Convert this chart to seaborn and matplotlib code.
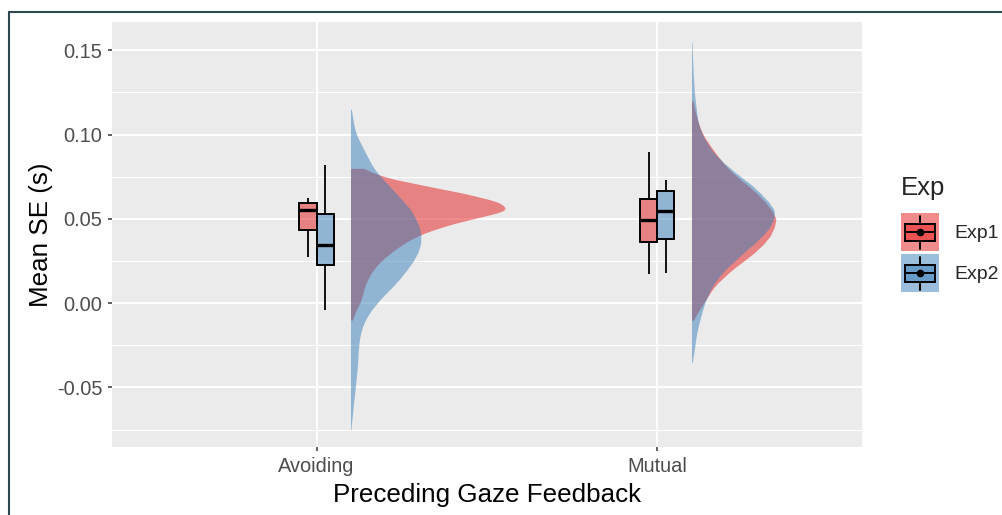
import numpy as np
import pandas as pd
import matplotlib
matplotlib.use("Agg")
import matplotlib.pyplot as plt
import matplotlib.colors as mcolors
import seaborn as sns
from matplotlib.patches import Patch, Rectangle
from matplotlib.lines import Line2D
from matplotlib.legend_handler import HandlerBase
from matplotlib.ticker import MultipleLocator, FormatStrFormatter

gaze_levels = ["Avoiding", "Mutual"]
exp_levels = ["Exp1", "Exp2"]
exp_colors = {"Exp1": "#E41A1C", "Exp2": "#377EB8"}

# per-participant mean SE (min, Q1, median, Q3, max)
box_avoiding_exp1 = [0.0276, 0.0433, 0.0554, 0.0597, 0.0623]
box_avoiding_exp2 = [-0.0038, 0.0224, 0.0345, 0.0528, 0.0821]
box_mutual_exp1 = [0.0173, 0.0361, 0.0492, 0.0617, 0.0899]
box_mutual_exp2 = [0.0177, 0.0379, 0.0549, 0.0663, 0.0730]

# distribution of SE values behind the half violins: value bins and counts
avoiding_exp1_bins = [0.080, 0.075, 0.070, 0.065, 0.060, 0.055, 0.050, 0.045, 0.040, 0.035,
                      0.030, 0.025, 0.020, 0.015, 0.010, 0.005, 0.000, -0.005, -0.010]
avoiding_exp1_counts = [35, 88, 205, 330, 430, 460, 345, 255, 190, 148,
                        115, 86, 65, 50, 40, 34, 27, 13, 5]

avoiding_exp2_bins = [0.115, 0.110, 0.105, 0.100, 0.095, 0.090, 0.085, 0.080, 0.075, 0.070,
                      0.065, 0.060, 0.055, 0.050, 0.045, 0.040, 0.035, 0.030, 0.025, 0.020,
                      0.015, 0.010, 0.005, 0.000, -0.005, -0.010, -0.015, -0.020, -0.025, -0.030,
                      -0.035, -0.040, -0.045, -0.050, -0.055, -0.060, -0.065, -0.070, -0.075]
avoiding_exp2_counts = [2, 6, 10, 17, 29, 42, 55, 68, 90, 112,
                        136, 158, 181, 193, 205, 209, 208, 200, 186, 168,
                        148, 126, 100, 78, 58, 43, 33, 27, 24, 22,
                        21, 19, 16, 14, 11, 8, 6, 3, 1]

mutual_exp1_bins = [0.120, 0.115, 0.110, 0.105, 0.100, 0.095, 0.090, 0.085, 0.080, 0.075,
                    0.070, 0.065, 0.060, 0.055, 0.050, 0.045, 0.040, 0.035, 0.030, 0.025,
                    0.020, 0.015, 0.010, 0.005, 0.000, -0.005, -0.010]
mutual_exp1_counts = [4, 9, 15, 23, 33, 49, 66, 85, 105, 132,
                      163, 190, 215, 233, 248, 240, 230, 209, 183, 152,
                      118, 92, 66, 50, 35, 19, 5]

mutual_exp2_bins = [0.155, 0.150, 0.145, 0.140, 0.135, 0.130, 0.125, 0.120, 0.115, 0.110,
                    0.105, 0.100, 0.095, 0.090, 0.085, 0.080, 0.075, 0.070, 0.065, 0.060,
                    0.055, 0.050, 0.045, 0.040, 0.035, 0.030, 0.025, 0.020, 0.015, 0.010,
                    0.005, 0.000, -0.005, -0.010, -0.015, -0.020, -0.025, -0.030, -0.035]
mutual_exp2_counts = [1, 2, 3, 4, 5, 7, 8, 11, 14, 17,
                      22, 31, 46, 61, 85, 113, 144, 177, 203, 226,
                      245, 241, 230, 208, 182, 152, 126, 98, 78, 60,
                      49, 38, 31, 24, 18, 13, 10, 6, 2]

VIOLIN_NUDGE = 0.1

box_rows = []
for gi, (g, groups) in enumerate(zip(gaze_levels, [[box_avoiding_exp1, box_avoiding_exp2],
                                                   [box_mutual_exp1, box_mutual_exp2]])):
    for e, vals in zip(exp_levels, groups):
        for v in vals:
            box_rows.append({"pos": gi, "Exp": e, "se": v})
box_df = pd.DataFrame(box_rows)

violin_parts = [
    (0, "Exp1", avoiding_exp1_bins, avoiding_exp1_counts),
    (0, "Exp2", avoiding_exp2_bins, avoiding_exp2_counts),
    (1, "Exp1", mutual_exp1_bins, mutual_exp1_counts),
    (1, "Exp2", mutual_exp2_bins, mutual_exp2_counts),
]
violin_df = pd.concat([
    pd.DataFrame({"pos": gi + VIOLIN_NUDGE, "Exp": e, "se": np.repeat(b, c)})
    for gi, e, b, c in violin_parts
], ignore_index=True)


def fixed_bw(kde):
    # same absolute bandwidth for every violin
    return 0.003 / kde.dataset.std(ddof=1)


class BoxKey(HandlerBase):
    def create_artists(self, legend, orig_handle, xdescent, ydescent,
                       width, height, fontsize, trans):
        rgb = mcolors.to_rgb(orig_handle.get_facecolor())
        x0, y0 = -xdescent, -ydescent
        cx, cy = x0 + width / 2, y0 + height / 2
        bg = Rectangle((x0, y0), width, height, facecolor=(*rgb, 0.5),
                       edgecolor="none", transform=trans)
        box = Rectangle((x0 + 0.1 * width, y0 + 0.27 * height), 0.8 * width, 0.46 * height,
                        facecolor=(*rgb, 0.5), edgecolor="black", linewidth=1.4,
                        transform=trans)
        lo = Line2D([cx, cx], [y0 + 0.07 * height, y0 + 0.27 * height],
                    color="black", lw=1.4, transform=trans)
        hi = Line2D([cx, cx], [y0 + 0.73 * height, y0 + 0.93 * height],
                    color="black", lw=1.4, transform=trans)
        med = Line2D([x0 + 0.1 * width, x0 + 0.9 * width], [cy, cy],
                     color="black", lw=1.4, transform=trans)
        dot = Line2D([cx], [cy], marker="o", markersize=4.5, color="black",
                     linestyle="none", transform=trans)
        return [bg, box, lo, hi, med, dot]


sns.set_theme(style="darkgrid", rc={"axes.facecolor": "#EBEBEB", "grid.color": "white"})
plt.rcParams["font.family"] = ["Liberation Sans", "DejaVu Sans"]
plt.rcParams["axes.unicode_minus"] = False

fig = plt.figure(figsize=(10.02, 5.15), dpi=100)
ax = fig.add_axes([112 / 1002, 1 - 447 / 515, 750 / 1002, 425 / 515])

sns.boxplot(data=box_df, x="pos", y="se", hue="Exp", hue_order=exp_levels,
            palette=exp_colors, native_scale=True, width=0.1, gap=0, saturation=1,
            linecolor="black", linewidth=1.4, showfliers=False,
            medianprops={"linewidth": 2.4}, whiskerprops={"linewidth": 1.3},
            capprops={"linewidth": 0}, legend=False, ax=ax)
for p in ax.patches:
    p.set_facecolor((*mcolors.to_rgb(p.get_facecolor()), 0.5))

n_before = len(ax.collections)
sns.violinplot(data=violin_df, x="pos", y="se", hue="Exp", hue_order=exp_levels,
               palette=exp_colors, native_scale=True, dodge=False, cut=0, inner=None,
               density_norm="area", common_norm=True, width=0.905, bw_method=fixed_bw,
               gridsize=400, linewidth=0, saturation=1, alpha=0.5, legend=False, ax=ax)

# keep only the right half of every violin (flat violins)
for coll in ax.collections[n_before:]:
    verts = np.concatenate([p.vertices for p in coll.get_paths()])
    mid = (verts[:, 0].min() + verts[:, 0].max()) / 2
    coll.set_clip_path(Rectangle((mid, -1), 2, 2, transform=ax.transData))

ax.set_xlim(-0.6, 1.6)
ax.set_ylim(-0.0853, 0.1668)
ax.set_xticks([0, 1], labels=gaze_levels)
ax.yaxis.set_major_locator(MultipleLocator(0.05))
ax.yaxis.set_minor_locator(MultipleLocator(0.025))
ax.yaxis.set_major_formatter(FormatStrFormatter("%.2f"))
ax.grid(which="major", color="white", linewidth=1.4)
ax.grid(which="minor", axis="y", color="white", linewidth=0.7)
ax.tick_params(which="major", bottom=True, left=True, length=3, width=1.1,
               color="#333333", labelcolor="#4D4D4D", labelsize=14.4, pad=4)
ax.tick_params(which="minor", length=0)
for s in ax.spines.values():
    s.set_visible(False)

ax.set_xlabel("Preceding Gaze Feedback", fontsize=18.7, color="black", labelpad=5)
ax.set_ylabel("Mean SE (s)", fontsize=18.7, color="black", labelpad=3)

handles = [Patch(facecolor=exp_colors[e], label=e) for e in exp_levels]
leg = fig.legend(handles=handles, title="Exp", loc="center left",
                 bbox_to_anchor=(901 / 1002, 1 - 234 / 515), frameon=False,
                 fontsize=14, title_fontsize=18.5, handlelength=1.95, handleheight=2.63,
                 handletextpad=0.8, labelspacing=0.15, borderpad=0, borderaxespad=0,
                 alignment="left", handler_map={Patch: BoxKey()})
leg._legend_box.sep = 10

# outer frame lines (left and top) of the original screenshot
fig.add_artist(Line2D([8.5 / 1002, 8.5 / 1002], [0, 1 - 12 / 515], color="#2B4A4F",
                      lw=1.5, transform=fig.transFigure))
fig.add_artist(Line2D([8.5 / 1002, 1], [1 - 12 / 515, 1 - 12 / 515], color="#2B4A4F",
                      lw=1.5, transform=fig.transFigure))

fig.savefig("out.png", dpi=100)
